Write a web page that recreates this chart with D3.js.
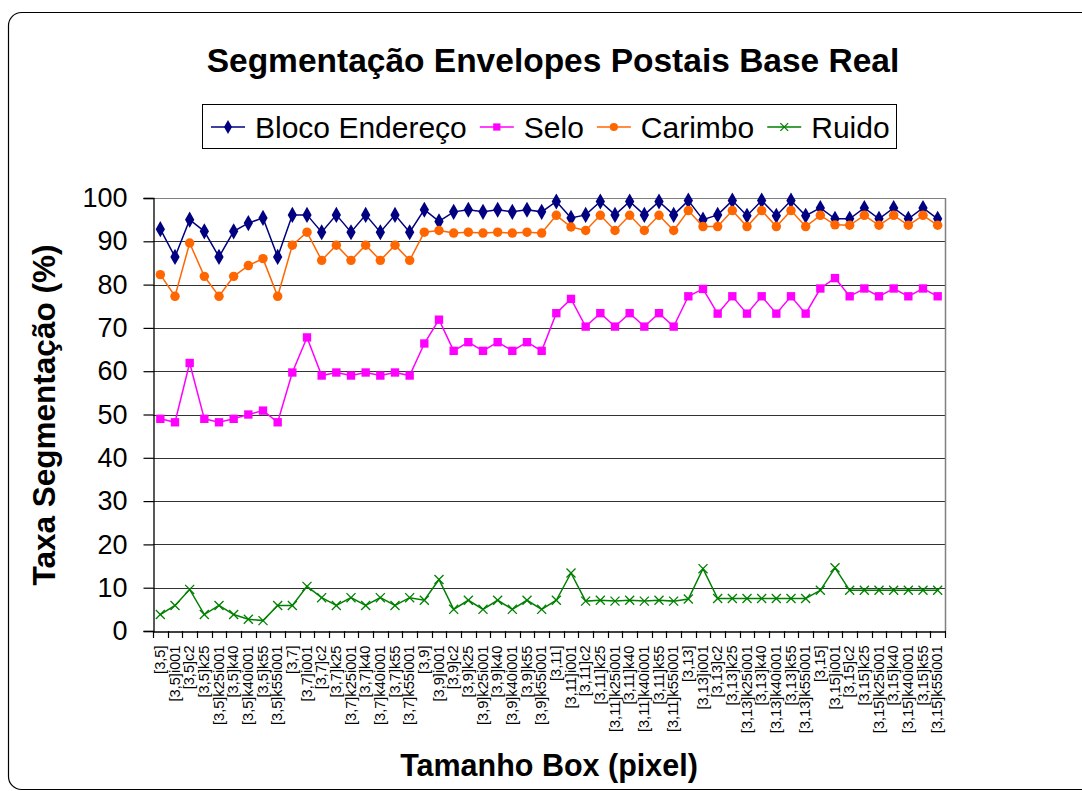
<!doctype html>
<html lang="pt">
<head>
  <meta charset="utf-8">
  <title>Segmentação Envelopes Postais Base Real</title>
  <style>
    body { margin: 0; background: #fff; }
    text { font-family: Arial, "Liberation Sans", sans-serif; }
  </style>
</head>
<body>
  <script src="https://cdn.jsdelivr.net/npm/d3@7"></script>
  <script>
    // Tick labels: group prefix + variant suffix
    const groups = ['[3,5]', '[3,7]', '[3,9]', '[3,11]', '[3,13]', '[3,15]'];
    const variants = ['', 'i001', 'c2', 'k25', 'k25i001', 'k40', 'k40i001', 'k55', 'k55i001'];
    const categories = groups.flatMap((g) => variants.map((v) => g + v));

    const yTicks = [0, 10, 20, 30, 40, 50, 60, 70, 80, 90, 100];

    const blocoEndereco = [
      92.8, 86.4, 95.0, 92.3, 86.4, 92.3, 94.2, 95.4, 86.4,
      96.1, 96.1, 92.1, 96.1, 92.1, 96.1, 92.1, 96.1, 92.1,
      97.3, 94.6, 96.8, 97.3, 96.8, 97.3, 96.8, 97.3, 96.8,
      99.2, 95.4, 96.1, 99.2, 96.1, 99.2, 96.1, 99.2, 96.1,
      99.4, 95.0, 96.1, 99.4, 95.9, 99.4, 95.9, 99.4, 95.9,
      97.7, 95.2, 95.2, 97.7, 95.2, 97.7, 95.2, 97.7, 95.2
    ];
    const selo = [
      49.0, 48.2, 61.9, 49.0, 48.2, 49.0, 50.0, 50.9, 48.2,
      59.7, 67.8, 59.0, 59.7, 59.0, 59.7, 59.0, 59.7, 59.0,
      66.4, 71.9, 64.7, 66.7, 64.7, 66.7, 64.7, 66.7, 64.7,
      73.4, 76.7, 70.3, 73.4, 70.3, 73.4, 70.3, 73.4, 70.3,
      77.3, 79.0, 73.3, 77.3, 73.3, 77.3, 73.3, 77.3, 73.3,
      79.1, 81.5, 77.3, 79.1, 77.3, 79.1, 77.3, 79.1, 77.3
    ];
    const carimbo = [
      82.3, 77.3, 89.6, 81.9, 77.3, 81.9, 84.4, 86.0, 77.3,
      89.1, 92.1, 85.6, 89.1, 85.6, 89.1, 85.6, 89.1, 85.6,
      92.1, 92.5, 91.9, 92.1, 91.9, 92.1, 91.9, 92.1, 91.9,
      96.0, 93.3, 92.5, 96.0, 92.5, 96.0, 92.5, 96.0, 92.5,
      97.1, 93.4, 93.4, 97.1, 93.4, 97.1, 93.4, 97.1, 93.4,
      96.0, 93.8, 93.7, 96.0, 93.7, 96.0, 93.7, 96.0, 93.7
    ];
    const ruido = [
      3.8, 5.9, 9.6, 3.8, 5.9, 3.8, 2.7, 2.4, 5.9,
      5.9, 10.3, 7.7, 5.9, 7.7, 5.9, 7.7, 5.9, 7.7,
      7.1, 11.9, 5.0, 7.1, 5.0, 7.1, 5.0, 7.1, 5.0,
      7.1, 13.4, 6.9, 7.1, 6.9, 7.1, 6.9, 7.1, 6.9,
      7.4, 14.4, 7.5, 7.5, 7.5, 7.5, 7.5, 7.5, 7.5,
      9.4, 14.6, 9.4, 9.4, 9.4, 9.4, 9.4, 9.4, 9.4
    ];

    const seriesNames = ['Bloco Endereço', 'Selo', 'Carimbo', 'Ruido'];
    const seriesValues = [blocoEndereco, selo, carimbo, ruido];

    const w = 1082;
    const h = 791;
    const plot = { left: 153, right: 945, top: 198, bottom: 631 };

    const styles = [
      { color: '#000080', symbol: d3.symbolDiamond, size: 75 },
      { color: '#FF00FF', symbol: d3.symbolSquare, size: 70 },
      { color: '#FF6600', symbol: d3.symbolCircle, size: 70 },
      { color: '#008000', symbol: d3.symbolX, size: 55 }
    ];

    const svg = d3.select('body')
                  .append('svg')
                  .attr('width', w)
                  .attr('height', h);

    // Outer rounded frame
    svg.append('rect')
       .attr('x', 8.5).attr('y', 12.5)
       .attr('width', 1090).attr('height', 777)
       .attr('rx', 13)
       .attr('fill', 'none')
       .attr('stroke', '#000')
       .attr('stroke-width', 1.2);

    // Title
    svg.append('text')
       .attr('x', 553).attr('y', 72)
       .attr('text-anchor', 'middle')
       .attr('font-size', 33.5)
       .attr('font-weight', 'bold')
       .text('Segmentação Envelopes Postais Base Real');

    // Scales
    const xScale = d3.scaleBand()
                     .domain(categories)
                     .range([plot.left, plot.right])
                     .padding(0);

    const yScale = d3.scaleLinear()
                     .domain([0, 100])
                     .range([plot.bottom, plot.top]);

    // Gridlines
    svg.append('g')
       .selectAll('line')
       .data(yTicks.filter((t) => t > 0))
       .enter()
       .append('line')
       .attr('x1', plot.left).attr('x2', plot.right)
       .attr('y1', (d) => Math.round(yScale(d)) + 0.5)
       .attr('y2', (d) => Math.round(yScale(d)) + 0.5)
       .attr('stroke', (d) => d === 100 ? '#808080' : '#333')
       .attr('stroke-width', 1.2);

    // Right border of plot
    svg.append('line')
       .attr('x1', plot.right + 0.5).attr('x2', plot.right + 0.5)
       .attr('y1', plot.top).attr('y2', plot.bottom)
       .attr('stroke', '#808080')
       .attr('stroke-width', 1.5);

    // Y axis
    const yAxis = d3.axisLeft(yScale)
                    .tickValues(yTicks)
                    .tickSize(10)
                    .tickPadding(16);

    const gy = svg.append('g')
                  .attr('transform', `translate(${plot.left + 0.5}, 0)`)
                  .call(yAxis);
    gy.select('.domain').attr('stroke', '#000').attr('stroke-width', 1.3);
    gy.selectAll('.tick line').attr('stroke', '#000').attr('stroke-width', 1.2);
    gy.selectAll('.tick text')
      .attr('font-size', 27)
      .attr('font-family', 'Arial, "Liberation Sans", sans-serif')
      .attr('fill', '#000');

    // X axis: ticks on category boundaries
    const xAxis = d3.axisBottom(xScale).tickSize(0).tickPadding(0);
    const gx = svg.append('g')
                  .attr('transform', `translate(0, ${plot.bottom + 0.5})`)
                  .call(xAxis);
    gx.select('.domain').attr('stroke', '#000').attr('stroke-width', 1.3);
    gx.selectAll('.tick text')
      .attr('font-size', 14.6)
      .attr('font-family', 'Arial, "Liberation Sans", sans-serif')
      .attr('fill', '#000')
      .attr('text-anchor', 'end')
      .attr('transform', 'translate(4.5, 14) rotate(-90)')
      .attr('dy', 0)
      .attr('y', 0)
      .attr('x', 0);

    svg.append('g')
       .selectAll('line')
       .data(categories.concat(['end']))
       .enter()
       .append('line')
       .attr('x1', (d, i) => Math.round(plot.left + i * xScale.bandwidth()) + 0.5)
       .attr('x2', (d, i) => Math.round(plot.left + i * xScale.bandwidth()) + 0.5)
       .attr('y1', plot.bottom)
       .attr('y2', plot.bottom + 7)
       .attr('stroke', '#000')
       .attr('stroke-width', 1.2);

    // Series
    const cx = (i) => xScale(categories[i]) + xScale.bandwidth() / 2;
    const line = d3.line()
                   .x((d, i) => cx(i))
                   .y((d) => yScale(d));

    seriesValues.forEach((vals, s) => {
      const st = styles[s];
      const g = svg.append('g');
      g.append('path')
       .attr('d', line(vals))
       .attr('fill', 'none')
       .attr('stroke', st.color)
       .attr('stroke-width', 1.5);

      g.selectAll('path.marker')
       .data(vals)
       .enter()
       .append('path')
       .attr('class', 'marker')
       .attr('transform', (d, i) => `translate(${cx(i)}, ${yScale(d)})`)
       .attr('d', d3.symbol().type(st.symbol).size(st.size))
       .attr('fill', s === 3 ? 'none' : st.color)
       .attr('stroke', st.color)
       .attr('stroke-width', s === 3 ? 1.3 : 0);
    });

    // Legend
    const legend = svg.append('g');
    legend.append('rect')
          .attr('x', 202.5).attr('y', 104.5)
          .attr('width', 694).attr('height', 44)
          .attr('fill', '#fff')
          .attr('stroke', '#000')
          .attr('stroke-width', 1);

    let lx = 211;
    const ly = 127;
    seriesNames.forEach((name, s) => {
      const st = styles[s];
      legend.append('line')
            .attr('x1', lx).attr('x2', lx + 34)
            .attr('y1', ly).attr('y2', ly)
            .attr('stroke', st.color)
            .attr('stroke-width', 1.5);
      legend.append('path')
            .attr('transform', `translate(${lx + 17}, ${ly})`)
            .attr('d', d3.symbol().type(st.symbol).size(st.size * 0.75))
            .attr('fill', s === 3 ? 'none' : st.color)
            .attr('stroke', st.color)
            .attr('stroke-width', s === 3 ? 1.3 : 0);
      const t = legend.append('text')
                      .attr('x', lx + 44)
                      .attr('y', ly + 10.5)
                      .attr('font-size', 30)
                      .text(name);
      lx += 44 + t.node().getComputedTextLength() + 13;
    });

    // Axis titles
    svg.append('text')
       .attr('transform', 'translate(55, 415) rotate(-90)')
       .attr('text-anchor', 'middle')
       .attr('font-size', 31.5)
       .attr('font-weight', 'bold')
       .text('Taxa Segmentação (%)');

    svg.append('text')
       .attr('x', 549).attr('y', 776)
       .attr('text-anchor', 'middle')
       .attr('font-size', 30.5)
       .attr('font-weight', 'bold')
       .text('Tamanho Box (pixel)');
  </script>
</body>
</html>
